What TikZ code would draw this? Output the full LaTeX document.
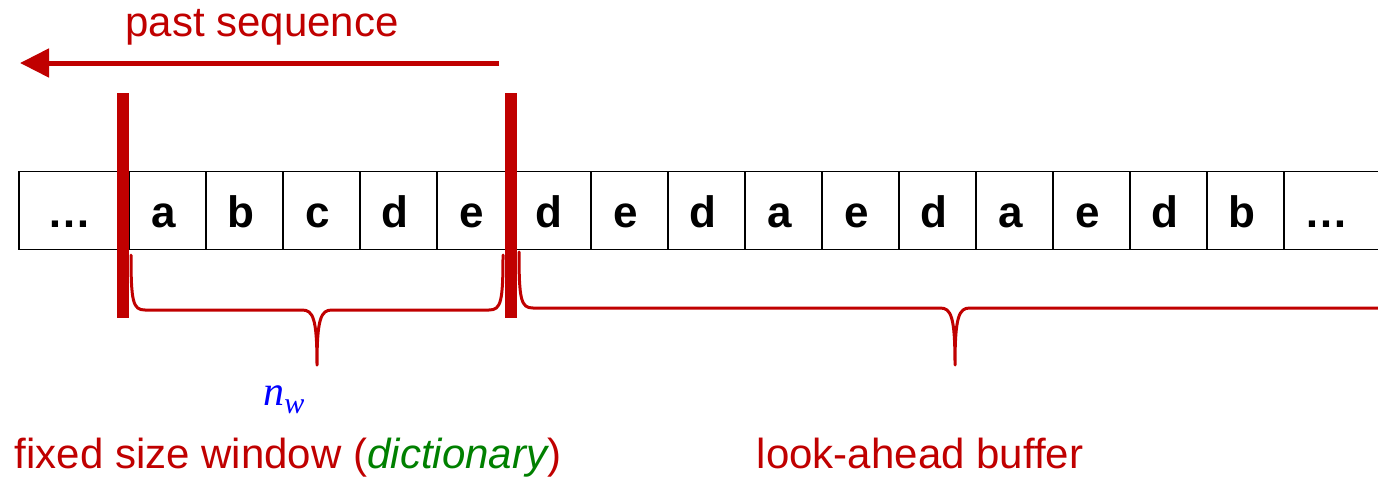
\documentclass[tikz,border=0pt]{standalone}
\usepackage{fontspec}
\setmainfont{Liberation Sans}
\newfontfamily\nwfont{Liberation Serif}
\usetikzlibrary{arrows.meta}
\definecolor{dred}{RGB}{192,0,0}
\definecolor{dgreen}{RGB}{0,128,0}
\begin{document}
\begin{tikzpicture}[x=1pt,y=-1pt,
  cellbox/.style={draw=black,line width=1.8pt,minimum width=77pt,minimum height=78pt,inner sep=0pt,anchor=west,
    text height=34pt,text depth=0pt,font=\fontsize{44}{50}\selectfont\bfseries},
  barline/.style={draw=dred,line width=12pt},
  bracepath/.style={draw=dred,line width=3pt,line cap=round,line join=round},
  lbl/.style={inner sep=0pt,anchor=base,text=dred,font=\fontsize{42}{48}\selectfont}
]
\useasboundingbox (0,0) rectangle (1378,477);
\clip (0,0) rectangle (1378,477);
% cells
\node[cellbox,minimum width=110pt] (c0) at (18,210.5) {\hspace*{-9pt}\ldots};
\foreach \t [count=\i] in {a,b,c,d,e,d,e,d,a,e,d,a,e,d,b}{
  \node[cellbox] (c\i) at ({128+77*(\i-1)},210.5) {\hspace*{-7pt}\t};
}
\node[cellbox,minimum width=140pt,anchor=west] (c16) at (1283,210.5) {\hspace*{-54pt}\ldots};
% red bars
\coordinate (b1t) at (123,93); \coordinate (b1b) at (123,318);
\coordinate (b2t) at (511,93); \coordinate (b2b) at (511,318);
\draw[barline] (b1t) -- (b1b);
\draw[barline] (b2t) -- (b2b);
% arrow
\coordinate (as) at (499,63); \coordinate (ae) at (20,63);
\draw[dred,line width=5pt,-{Triangle[length=29pt,width=28pt]}] (as) -- (ae);
\node[lbl] (past) at (262,36) {past sequence};
% left brace
\draw[bracepath] (131,255) .. controls (131,302) and (133,310) .. (145,310) -- (302,310)
  .. controls (313,310) and (317,318) .. (317,365)
  .. controls (317,318) and (321,310) .. (332,310) -- (489,310)
  .. controls (501,310) and (503,302) .. (503,255);
% right brace
\draw[bracepath] (519,252) .. controls (519,300) and (521,308) .. (533,308) -- (940,308)
  .. controls (951,308) and (955,316) .. (955,365)
  .. controls (955,316) and (959,308) .. (970,308) -- (1390,308);
% labels
\node[inner sep=0pt,anchor=base,text=blue,font=\fontsize{42}{46}\selectfont\nwfont\itshape] (nw) at (284,405) {n\raisebox{-8pt}{\fontsize{30}{32}\selectfont w}};
\node[lbl] (win) at (288,468) {fixed size window (\textcolor{dgreen}{\itshape dictionary})};
\node[lbl] (look) at (920,468) {look-ahead buffer};
\end{tikzpicture}
\end{document}
